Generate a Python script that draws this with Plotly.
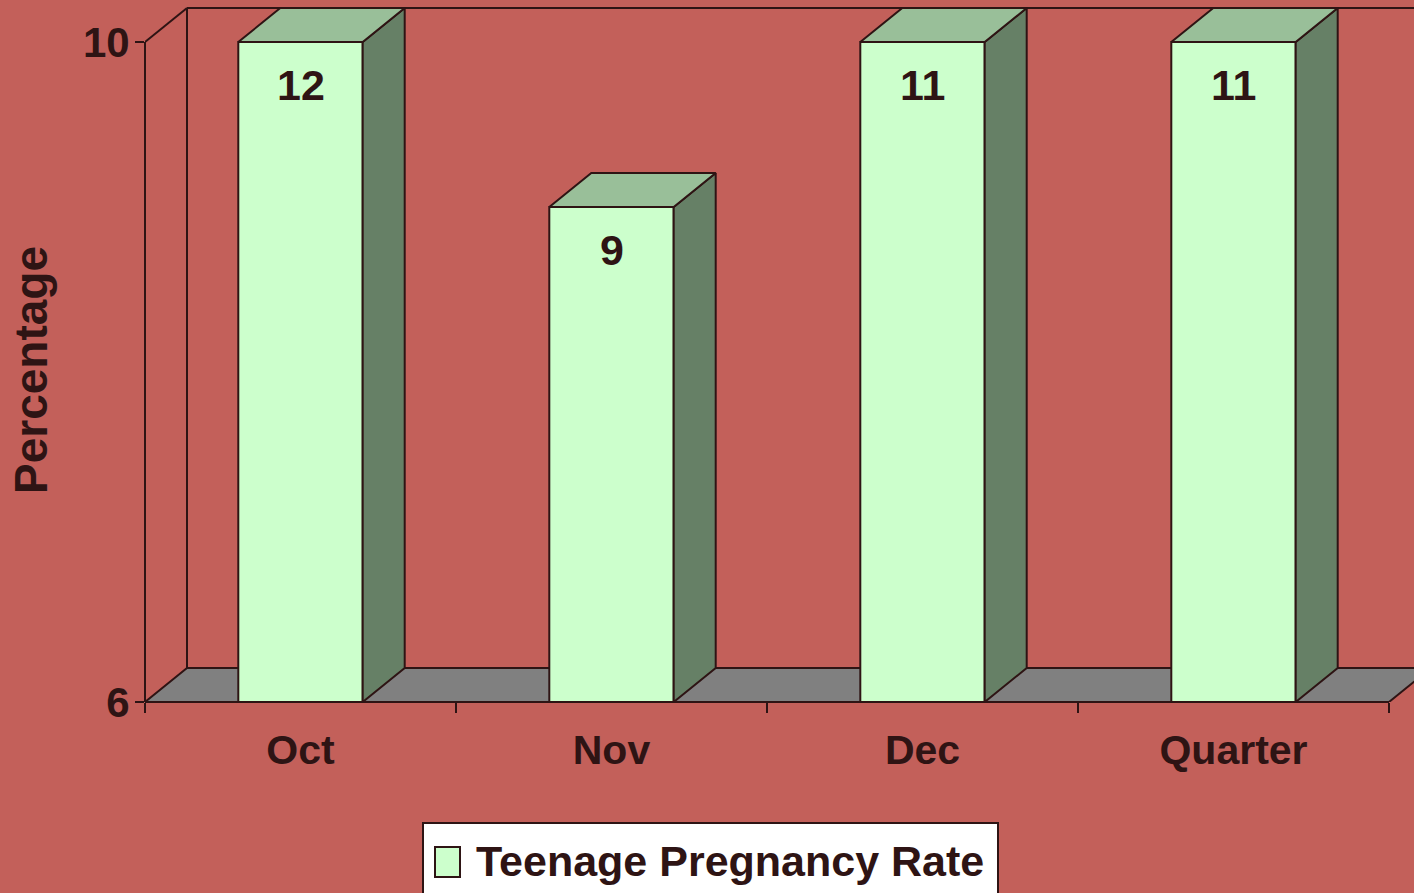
import plotly.graph_objects as go

# ---- data ----
categories = ["Oct", "Nov", "Dec", "Quarter"]
values = [12, 9, 11, 11]
series_name = "Teenage Pregnancy Rate"
y_ticks = [6, 10]
y_min, y_max = 6, 10

# ---- style ----
BG = "#C3605A"
FRONT = "#CCFFCC"
TOP = "#99BF99"
SIDE = "#668066"
FLOOR = "#808080"
INK = "#2E1414"
FONT = "Liberation Sans, Arial, sans-serif"

W, H = 1414, 893
ML, MB = 145, 191
plot_w, plot_h = W - ML, H - MB
cat_px = 311.0
px_per_unit = 165.0
DX = 42 / cat_px          # depth offset in x data units
DY = 34 / px_per_unit     # depth offset in y data units
BW = 0.4                  # bar width
x_lo = -0.5
x_hi = x_lo + plot_w / cat_px
y_hi = y_min + plot_h / px_per_unit

n = len(categories)
xs = list(range(n))
disp = [min(v, y_max) for v in values]

fig = go.Figure()

# front faces (bars)
fig.add_trace(go.Bar(
    x=xs, y=disp, width=BW, name=series_name,
    marker=dict(color=FRONT, line=dict(color=INK, width=2)),
    showlegend=False, hoverinfo="skip",
))

# side and top faces
sx, sy = [], []
tx, ty = [], []
for i, t in zip(xs, disp):
    r = i + BW / 2
    l = i - BW / 2
    sx += [r, r + DX, r + DX, r, r, None]
    sy += [y_min, y_min + DY, t + DY, t, y_min, None]
    tx += [l, l + DX, r + DX, r, l, None]
    ty += [t, t + DY, t + DY, t, t, None]
fig.add_trace(go.Scatter(x=sx, y=sy, mode="lines", fill="toself", fillcolor=SIDE,
                         line=dict(color=INK, width=2), showlegend=False, hoverinfo="skip"))
fig.add_trace(go.Scatter(x=tx, y=ty, mode="lines", fill="toself", fillcolor=TOP,
                         line=dict(color=INK, width=2), showlegend=False, hoverinfo="skip"))

shapes = []
x_end = x_lo + n
# floor
shapes.append(dict(type="path", xref="x", yref="y", layer="below",
                   path=f"M{x_lo},{y_min} L{x_end},{y_min} L{x_end+DX},{y_min+DY} L{x_lo+DX},{y_min+DY} Z",
                   fillcolor=FLOOR, line=dict(color=INK, width=2)))
# floor back edge extension
shapes.append(dict(type="line", xref="x", yref="y", layer="below",
                   x0=x_lo + DX, x1=x_hi + 1, y0=y_min + DY, y1=y_min + DY,
                   line=dict(color=INK, width=2)))
# back wall left edge
shapes.append(dict(type="line", xref="x", yref="y", layer="below",
                   x0=x_lo + DX, x1=x_lo + DX, y0=y_min + DY, y1=y_max + DY,
                   line=dict(color=INK, width=2)))
# back wall top edge
shapes.append(dict(type="line", xref="x", yref="y", layer="below",
                   x0=x_lo + DX, x1=x_hi + 1, y0=y_max + DY, y1=y_max + DY,
                   line=dict(color=INK, width=2)))
# left wall top diagonal
shapes.append(dict(type="line", xref="x", yref="y", layer="below",
                   x0=x_lo, x1=x_lo + DX, y0=y_max, y1=y_max + DY,
                   line=dict(color=INK, width=2)))
# y axis line
shapes.append(dict(type="line", xref="paper", yref="y", layer="above",
                   x0=0, x1=0, y0=y_min, y1=y_max, line=dict(color=INK, width=2)))
# x axis (floor front edge)
shapes.append(dict(type="line", xref="x", yref="paper", layer="above",
                   x0=x_lo, x1=x_end, y0=0, y1=0, line=dict(color=INK, width=2)))


def px2x(p):
    return (p - ML) / plot_w


def py2y(p):
    return (plot_h - p) / plot_h


# manual legend
shapes.append(dict(type="rect", xref="paper", yref="paper", layer="above",
                   x0=px2x(423), x1=px2x(998), y0=py2y(823), y1=py2y(905),
                   fillcolor="white", line=dict(color=INK, width=2)))
shapes.append(dict(type="rect", xref="paper", yref="paper", layer="above",
                   x0=px2x(435), x1=px2x(460), y0=py2y(847), y1=py2y(877),
                   fillcolor=FRONT, line=dict(color=INK, width=2)))

annotations = []
annotations.append(dict(xref="paper", yref="paper", x=px2x(474), y=py2y(861),
                        xanchor="left", yanchor="middle", showarrow=False,
                        text=series_name,
                        font=dict(family=FONT, size=43, color=INK, weight="bold")))
# value labels
for i, v, t in zip(xs, values, disp):
    annotations.append(dict(x=i, y=t, xref="x", yref="y", yanchor="top", yshift=-17,
                            showarrow=False, text=str(v),
                            font=dict(family=FONT, size=43, color=INK, weight="bold")))
# y axis title
annotations.append(dict(xref="paper", yref="paper", x=px2x(31), y=py2y(370),
                        xanchor="center", yanchor="middle", showarrow=False,
                        text="Percentage", textangle=-90,
                        font=dict(family=FONT, size=46, color=INK, weight="bold")))

fig.update_layout(
    width=W, height=H,
    margin=dict(l=ML, r=0, t=0, b=MB, pad=0),
    paper_bgcolor=BG, plot_bgcolor=BG,
    showlegend=False,
    shapes=shapes, annotations=annotations,
    hovermode=False,
    xaxis=dict(range=[x_lo, x_hi], showgrid=False, zeroline=False, showline=False,
               tickmode="array", tickvals=xs, ticktext=categories, ticks="",
               ticklabelstandoff=20,
               tickfont=dict(family=FONT, size=41, color=INK, weight="bold"),
               minor=dict(tickmode="array", tickvals=[x_lo + k for k in range(n + 1)],
                          ticks="outside", ticklen=10, tickwidth=2, tickcolor=INK,
                          showgrid=False)),
    yaxis=dict(range=[y_min, y_hi], showgrid=False, zeroline=False, showline=False,
               tickmode="array", tickvals=y_ticks, ticktext=[str(t) for t in y_ticks],
               ticks="outside", ticklen=9, tickwidth=2, tickcolor=INK,
               ticklabelstandoff=-3,
               tickfont=dict(family=FONT, size=42, color=INK, weight="bold")),
)

fig.write_html("out.html", config={"displayModeBar": False},
               post_script="document.body.style.margin='0';document.body.style.overflow='hidden';")
